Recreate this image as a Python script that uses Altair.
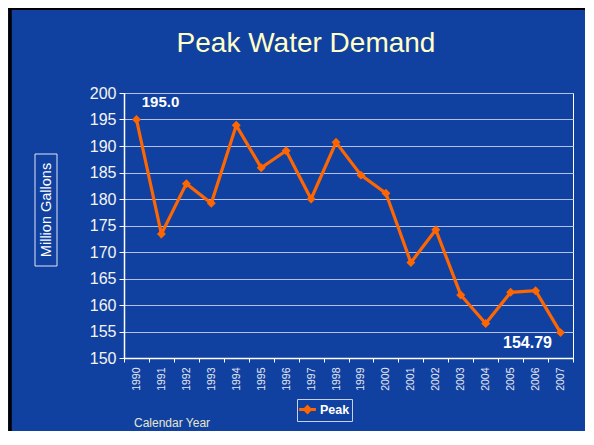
import altair as alt
import pandas as pd

# ---- data ----
years = [str(y) for y in range(1990, 2008)]
peak = [195.0, 173.4, 182.9, 179.2, 193.9, 185.9, 189.1, 180.0, 190.7,
        184.5, 181.1, 168.0, 174.2, 161.9, 156.5, 162.4, 162.7, 154.79]
series_name = ["Peak"]
first_label = ["195.0"]
last_label = ["154.79"]
y_ticks = [150, 155, 160, 165, 170, 175, 180, 185, 190, 195, 200]
chart_title = ["Peak Water Demand"]
y_title = ["Million Gallons"]
x_title = ["Calendar Year"]

BG = "#1141A0"
ORANGE = "#FF6600"
SANS = "Liberation Sans, Arial, sans-serif"

labels = [""] * len(years)
labels[0] = first_label[0]
labels[-1] = last_label[0]
df = pd.DataFrame({"year": years, "value": peak,
                   "series": series_name * len(years), "label": labels})

x_enc = alt.X("year:N", sort=years,
              scale=alt.Scale(type="band", paddingInner=0, paddingOuter=0),
              axis=alt.Axis(title=None, labelAngle=-90, labelFontSize=10.5,
                            labelFont=SANS, labelColor="#E4E8F4",
                            tickBand="extent", tickSize=4, tickColor="white",
                            domainColor="white", domainWidth=1.5,
                            labelPadding=5, grid=False))
y_enc = alt.Y("value:Q",
              scale=alt.Scale(domain=[150, 200], nice=False, zero=False),
              axis=alt.Axis(title=None, values=y_ticks, labelFontSize=16,
                            labelFont=SANS, labelColor="#F4F4F4",
                            tickSize=5, tickColor="white", domainColor="white",
                            domainWidth=1.5, labelPadding=3, grid=True,
                            gridColor="#B4C0E8", gridWidth=1))

base = alt.Chart(df).encode(x=x_enc, y=y_enc)

line = base.mark_line(strokeWidth=3.2).encode(
    color=alt.Color("series:N",
                    scale=alt.Scale(domain=series_name, range=[ORANGE]),
                    legend=alt.Legend(
                        title=None, orient="none", legendX=173, legendY=306,
                        strokeColor="#C8D0F0", padding=2,
                        symbolType="M-1.2,0L1.2,0M0,-0.4L0.4,0L0,0.4L-0.4,0Z",
                        symbolSize=196, symbolStrokeWidth=3,
                        labelFont=SANS, labelFontSize=12.5,
                        labelFontWeight="bold", labelColor="white",
                        labelOffset=4, rowPadding=0)))
points = base.mark_point(shape="diamond", filled=True, size=80,
                         color=ORANGE, opacity=1)

lab_first = base.transform_filter(alt.datum.label == first_label[0]).mark_text(
    dx=24, dy=-18, font=SANS, fontSize=15, fontWeight="bold", color="white"
).encode(text="label:N")
lab_last = base.transform_filter(alt.datum.label == last_label[0]).mark_text(
    dx=-33, dy=10, font=SANS, fontSize=16, fontWeight="bold", color="white"
).encode(text="label:N")

one = pd.DataFrame({"t": chart_title, "yt": y_title, "xt": x_title})

title = alt.Chart(one).mark_text(font=SANS, fontSize=28, color="#FFFFC8",
                                 baseline="alphabetic", align="center").encode(
    text="t:N", x=alt.value(182), y=alt.value(-41))
ybox = alt.Chart(one).mark_rect(fill=BG, stroke="#E0E6F8", strokeWidth=1).encode(
    x=alt.value(-89), x2=alt.value(-67), y=alt.value(61), y2=alt.value(173))
ytext = alt.Chart(one).mark_text(font=SANS, fontSize=14.5, color="white",
                                 angle=270, baseline="middle", align="center").encode(
    text="yt:N", x=alt.value(-77), y=alt.value(117))
xtext = alt.Chart(one).mark_text(font=SANS, fontSize=12, color="#E6E6CC",
                                 baseline="middle", align="left").encode(
    text="xt:N", x=alt.value(10), y=alt.value(330))

border_left = alt.Chart(one).mark_rule(color="black", strokeWidth=3.5).encode(
    x=alt.value(-114), y=alt.value(-85), y2=alt.value(338))
border_top = alt.Chart(one).mark_rule(color="black", strokeWidth=2).encode(
    y=alt.value(-84), x=alt.value(-116), x2=alt.value(461))

chart = alt.layer(
    border_left, border_top, title, ybox, ytext, xtext,
    line, points, lab_first, lab_last
).properties(
    width=449, height=265,
    autosize=alt.AutoSizeParams(type="none"),
    padding={"left": 116, "top": 85, "right": 12, "bottom": 73},
).configure(background=BG).configure_view(stroke="white", strokeWidth=1)

chart.save("out.html", embed_options={"renderer": "svg", "actions": False})
